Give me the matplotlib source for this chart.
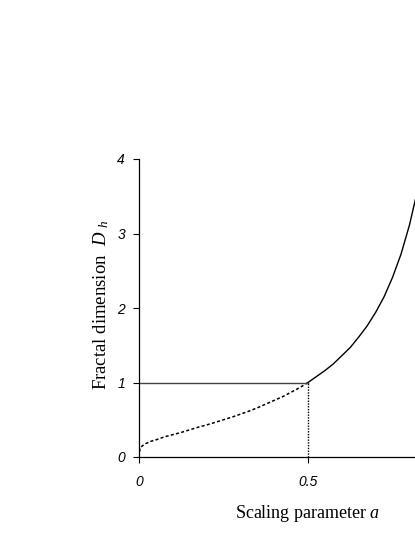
import matplotlib.pyplot as plt

# values
a_dotted = [0.0, 0.003, 0.005, 0.01, 0.02, 0.035, 0.05, 0.075, 0.1, 0.125, 0.15, 0.175, 0.2, 0.225,
            0.25, 0.275, 0.3, 0.325, 0.35, 0.375, 0.4, 0.425, 0.45, 0.475, 0.5]
d_dotted = [0.0, 0.12, 0.13, 0.15, 0.18, 0.21, 0.23, 0.27, 0.30, 0.33, 0.365, 0.40, 0.43, 0.465,
            0.50, 0.535, 0.575, 0.615, 0.66, 0.71, 0.76, 0.81, 0.87, 0.93, 1.0]
a_solid = [0.5, 0.525, 0.55, 0.575, 0.6, 0.625, 0.65, 0.675, 0.7, 0.725, 0.75, 0.775, 0.8, 0.825, 0.85]
d_solid = [1.0, 1.08, 1.16, 1.25, 1.36, 1.47, 1.61, 1.76, 1.94, 2.15, 2.41, 2.72, 3.11, 3.60, 4.26]
x_ticks = [0, 0.5]
x_ticklabels = ["0", "0.5"]
y_ticks = [0, 1, 2, 3, 4]

plt.rcParams['mathtext.fontset'] = 'custom'
plt.rcParams['mathtext.it'] = 'Liberation Serif:italic'
plt.rcParams['mathtext.rm'] = 'Liberation Serif'

fig = plt.figure(figsize=(4.15, 5.37), dpi=100)
# axes runs past the right edge, as in the original crop
ax = fig.add_axes([139 / 415, 80 / 537, 338 / 415, 298 / 537])

ax.plot(a_dotted, d_dotted, color='k', linestyle=(0, (2, 1.5)), linewidth=1.1)
ax.plot(a_solid, d_solid, color='k', linewidth=1.0)
# reference lines at a = 0.5, D = 1
ax.plot([0, 0.5], [1, 1], color='#444444', linewidth=1.0)
ax.plot([0.5, 0.5], [0, 1], color='k', linestyle=(0, (1, 1)), linewidth=1.0)

ax.set_xlim(0, 1)
ax.set_ylim(0, 4)
ax.set_xticks(x_ticks)
ax.set_xticklabels(x_ticklabels)
ax.set_yticks(y_ticks)
for lab in ax.get_xticklabels() + ax.get_yticklabels():
    lab.set_family('Liberation Sans')
    lab.set_style('italic')
    lab.set_fontsize(10)
ax.tick_params(direction='out', length=4, width=0.8, pad=6)
ax.tick_params(axis='x', pad=9)

for s in ['top', 'right']:
    ax.spines[s].set_visible(False)
for s in ['left', 'bottom']:
    ax.spines[s].set_linewidth(0.9)

ax.set_xlabel('Scaling parameter $a$', family='Liberation Serif', fontsize=13, labelpad=10)
ax.set_ylabel('Fractal dimension  $D$ $_h$', family='Liberation Serif', fontsize=13.5)
ax.yaxis.set_label_coords(-0.082, 0.51)

fig.savefig('out.png', dpi=100)
